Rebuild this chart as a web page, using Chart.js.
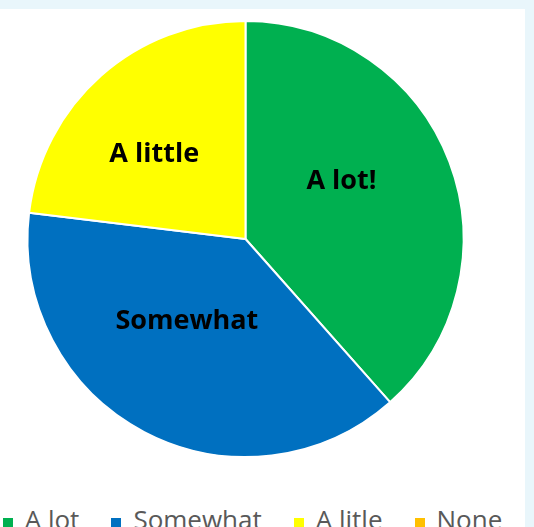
<!DOCTYPE html>
<html>
<head>
<meta charset="utf-8">
<script src="https://cdn.jsdelivr.net/npm/chart.js@4/dist/chart.umd.min.js"></script>
<style>
  html, body { margin: 0; padding: 0; }
  body { width: 534px; height: 527px; background: #e9f6fb; position: relative; overflow: hidden; }
  #panel { position: absolute; left: 0; top: 9px; width: 525px; height: 518px; background: #fff; overflow: hidden; }
  #chart { display: block; }
  #legend {
    position: absolute; left: 0; top: 492px; width: 505px;
    display: flex; justify-content: center; white-space: nowrap;
    font: 26px/36px 'Open Sans', sans-serif; color: #595959;
  }
  #legend .item { margin-right: 32px; }
  #legend .item:last-child { margin-right: 0; }
  #legend .box { display: inline-block; width: 10px; height: 10px; margin-right: 12px; vertical-align: 1px; }
</style>
</head>
<body>
<div id="panel">
  <canvas id="chart" width="525" height="460"></canvas>
  <div id="legend"></div>
</div>
<script>
// --- Chart data ---
const legendLabels = ["A lot", "Somewhat", "A litle", "None"];
const sliceLabels = ["A lot!", "Somewhat", "A little", ""];
const responses = [5, 5, 3, 0];
const sliceColors = ["#00b050", "#0070c0", "#ffff00", "#ffc000"];

// small nudges so the slice text sits where Excel put it
const labelNudge = [[-6, -19], [-8, -14], [-19, -3], [0, 0]];

// draws the bold text inside each slice
const sliceText = {
    id: "sliceText",
    afterDatasetsDraw(chart) {
        const ctx = chart.ctx;
        const arcs = chart.getDatasetMeta(0).data;
        ctx.save();
        ctx.font = "bold 27px 'Open Sans'";
        ctx.fillStyle = "#000";
        ctx.textAlign = "center";
        ctx.textBaseline = "middle";
        arcs.forEach((arc, i) => {
            if (!sliceLabels[i]) return;
            const p = arc.tooltipPosition();
            ctx.fillText(sliceLabels[i], p.x + labelNudge[i][0], p.y + labelNudge[i][1]);
        });
        ctx.restore();
    }
};

new Chart(document.getElementById("chart"), {
    type: "pie",
    data: {
        labels: legendLabels,
        datasets: [{
            data: responses,
            backgroundColor: sliceColors,
            borderColor: "#ffffff",
            borderWidth: 2
        }]
    },
    options: {
        responsive: false,
        animation: false,
        layout: { padding: { top: 11, right: 34, left: 0, bottom: 11 } },
        plugins: {
            tooltip: { enabled: false },
            legend: { display: false }
        }
    },
    plugins: [sliceText]
});

// --- Legend (HTML, built from the same arrays) ---
const legendEl = document.getElementById("legend");
legendLabels.forEach((label, i) => {
    const item = document.createElement("span");
    item.className = "item";
    const box = document.createElement("span");
    box.className = "box";
    box.style.background = sliceColors[i];
    item.appendChild(box);
    item.appendChild(document.createTextNode(label));
    legendEl.appendChild(item);
});
</script>
</body>
</html>
